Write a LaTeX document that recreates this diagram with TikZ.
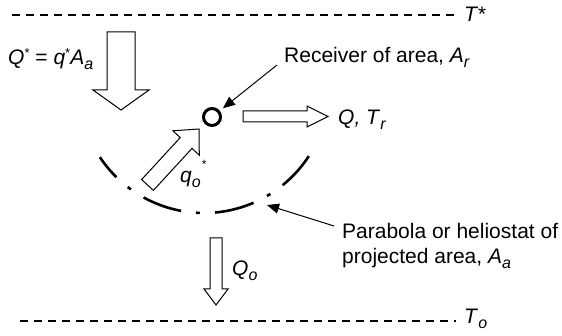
\documentclass[tikz,border=0pt]{standalone}
\usepackage{fontspec}
\setmainfont{Liberation Sans}
\usetikzlibrary{arrows.meta}
\newcommand{\subx}[1]{\raisebox{-5pt}{\fontsize{16}{16}\selectfont\itshape #1}}
\newcommand{\supx}[1]{\raisebox{7pt}{\fontsize{13}{13}\selectfont #1}}
\begin{document}
\begin{tikzpicture}[x=1pt,y=-1pt,
  blockarrow/.style={draw=black, line width=1pt, fill=white, line join=miter},
  bound/.style={line width=1.5pt, dash pattern=on 8pt off 6pt},
  lead/.style={line width=1pt, -{Triangle[length=12pt,width=10pt]}},
  lbl/.style={font=\fontsize{21}{25}\selectfont, inner sep=0pt, anchor=base west},
  parab/.style={line width=2.6pt, dash pattern=on 40pt off 15pt on 4pt off 15pt, dash phase=14pt}
]
\useasboundingbox (0,0) rectangle (562,336);

% boundaries
\coordinate (tl) at (12,15);
\coordinate (tr) at (455,15);
\coordinate (bl) at (20,321);
\coordinate (br) at (456,321);
\draw[bound] (tl) -- (tr);
\draw[bound] (bl) -- (br);
\node[lbl] (tstar) at (464,22) {\textit{T*}};
\node[lbl] (to) at (464,324) {\textit{T}\subx{o}};

% incoming solar flux arrow
\draw[blockarrow] (107,32) -- (135,32) -- (135,90) -- (149,90) -- (121,110)
  -- (93,90) -- (107,90) -- cycle;
\node[lbl] (qstar) at (8,65) {\textit{Q}\supx{*} = \textit{q}\supx{*}\textit{A}\subx{a}};

% receiver
\node[circle, draw, line width=3pt, minimum size=17pt, inner sep=0pt] (rec) at (212,117) {};
\coordinate (recpt) at (277,65);
\draw[lead, shorten >=4pt] (recpt) -- (rec);
\node[lbl] (reclbl) at (284,63) {Receiver of area, \textit{A}\subx{r}};

% output arrow Q
\draw[blockarrow] (243,111) -- (307,111) -- (307,106) -- (328,116.5) -- (307,127)
  -- (307,122) -- (243,122) -- cycle;
\node[lbl] (qtr) at (338,125) {\textit{Q, T}\subx{r}};

% reflected flux arrow q_o*
\draw[blockarrow] (141.6,179.6) -- (180.2,137.6) -- (172.9,130.8) -- (199,129)
  -- (199.3,155.2) -- (192,148.4) -- (153.4,190.4) -- cycle;
\node[lbl] (qo) at (180,183) {\textit{q}\subx{o}\kern1pt\raisebox{14pt}{\fontsize{12}{12}\selectfont *}};

% parabola / heliostat
\draw[parab] (204,88) ++(146.4:125) arc[start angle=146.4, end angle=33, radius=125];
\coordinate (ptip) at (267,205);
\coordinate (pstart) at (334,226);
\draw[lead] (pstart) -- (ptip);
\node[lbl, align=left, anchor=north west, font=\fontsize{21}{25}\selectfont] (parlbl) at (342,223)
  {Parabola or heliostat of\\projected area, \textit{A}\subx{a}};

% loss arrow Q_o
\draw[blockarrow] (210,238) -- (222,238) -- (222,289) -- (228,289) -- (216,305)
  -- (204,289) -- (210,289) -- cycle;
\node[lbl] (qol) at (232,276) {\textit{Q}\subx{o}};
\end{tikzpicture}
\end{document}
